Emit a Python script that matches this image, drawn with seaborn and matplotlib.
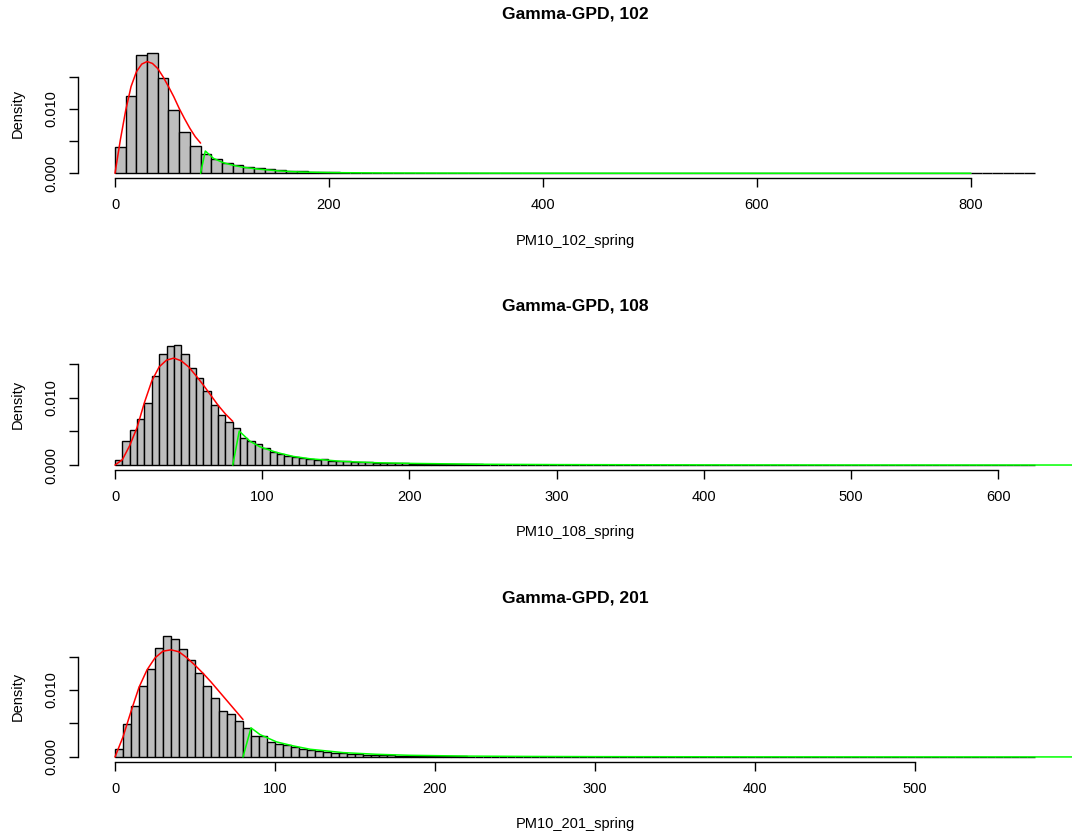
import numpy as np
import pandas as pd
import matplotlib
matplotlib.use("Agg")
import matplotlib.pyplot as plt
import matplotlib.transforms as mtransforms
import seaborn as sns

# ---------------- data ----------------
stations = ["102", "108", "201"]
bin_width = [10, 5, 5]
x_ticks_102 = [0, 200, 400, 600, 800]
x_ticks_108 = [0, 100, 200, 300, 400, 500, 600]
x_ticks_201 = [0, 100, 200, 300, 400, 500]
y_ticks = [0.0, 0.005, 0.010, 0.015]
y_tick_labels = ["0.000", "", "0.010", ""]

# histogram densities (bins start at 0)
dens_102 = [
    0.00415, 0.01203, 0.01835, 0.01877, 0.01488, 0.00980, 0.00638, 0.00425, 0.00300, 0.00220,
    0.00166, 0.00130, 0.00104, 0.00078, 0.00062, 0.00052, 0.00036, 0.00028, 0.00022, 0.00017,
    0.00013, 0.00010, 0.00008, 0.00007, 0.00005, 0.00004, 0.00003, 0.00003, 0.00002, 0.00002,
    0.00002, 0.00001, 0.00002, 0.00001, 0.00001, 0.00001, 0.00001, 0.00001, 0.0, 0.00001,
    0.00001, 0.0, 0.00001, 0.0, 0.00001, 0.0, 0.0, 0.00001, 0.0, 0.0,
    0.00001, 0.0, 0.0, 0.0, 0.00001, 0.0, 0.0, 0.0, 0.0, 0.00001,
    0.0, 0.0, 0.0, 0.0, 0.0, 0.00001, 0.0, 0.0, 0.0, 0.0,
    0.0, 0.0, 0.0, 0.0, 0.0, 0.0, 0.0, 0.0, 0.0, 0.0,
    0.0, 0.0, 0.0, 0.0, 0.0, 0.00001,
]
dens_108 = [
    0.00074, 0.00356, 0.00520, 0.00680, 0.00926, 0.01327, 0.01658, 0.01772, 0.01792, 0.01658,
    0.01436, 0.01297, 0.01100, 0.00891, 0.00743, 0.00634, 0.00545, 0.00396, 0.00356, 0.00307,
    0.00248, 0.00198, 0.00163, 0.00139, 0.00119, 0.00099, 0.00089, 0.00079, 0.00084, 0.00064,
    0.00059, 0.00054, 0.00049, 0.00045, 0.00040, 0.00037, 0.00035, 0.00030, 0.00028, 0.00025,
    0.00022, 0.00020, 0.00018, 0.00016, 0.00015, 0.00013, 0.00012, 0.00011, 0.00010, 0.00009,
    0.00008, 0.00008, 0.00007, 0.00006, 0.00006, 0.00005, 0.00005, 0.00004, 0.00004, 0.00003,
    0.00003, 0.00003, 0.00002, 0.00003, 0.00002, 0.00002, 0.00002, 0.00001, 0.00002, 0.00001,
    0.00001, 0.00001, 0.00002, 0.00001, 0.00001, 0.0, 0.00001, 0.00001, 0.0, 0.00001,
    0.0, 0.00001, 0.0, 0.0, 0.00001, 0.0, 0.0, 0.00001, 0.0, 0.0,
    0.00001, 0.0, 0.0, 0.0, 0.0, 0.00001, 0.0, 0.0, 0.0, 0.0,
    0.0, 0.0, 0.00001, 0.0, 0.0, 0.0, 0.0, 0.0, 0.0, 0.0,
    0.0, 0.0, 0.0, 0.0, 0.0, 0.0, 0.00001, 0.0, 0.0, 0.0,
    0.0, 0.0, 0.0, 0.0, 0.00001,
]
dens_201 = [
    0.00125, 0.00485, 0.00755, 0.01060, 0.01315, 0.01625, 0.01800, 0.01760, 0.01615, 0.01450,
    0.01250, 0.01065, 0.00875, 0.00690, 0.00635, 0.00535, 0.00440, 0.00310, 0.00310, 0.00225,
    0.00200, 0.00175, 0.00150, 0.00125, 0.00100, 0.00085, 0.00075, 0.00065, 0.00055, 0.00045,
    0.00040, 0.00036, 0.00032, 0.00028, 0.00025, 0.00022, 0.00020, 0.00017, 0.00015, 0.00013,
    0.00011, 0.00010, 0.00009, 0.00008, 0.00007, 0.00006, 0.00005, 0.00005, 0.00004, 0.00004,
    0.00003, 0.00003, 0.00003, 0.00002, 0.00002, 0.00002, 0.00002, 0.00001, 0.00002, 0.00001,
    0.00001, 0.00001, 0.00001, 0.00001, 0.0, 0.00001, 0.00001, 0.0, 0.00001, 0.0,
    0.00001, 0.0, 0.0, 0.00001, 0.0, 0.0, 0.0, 0.00001, 0.0, 0.0,
    0.0, 0.00001, 0.0, 0.0, 0.0, 0.0, 0.0, 0.0, 0.0, 0.0,
    0.0, 0.0, 0.0, 0.0, 0.00001, 0.0, 0.0, 0.0, 0.0, 0.0,
    0.0, 0.0, 0.0, 0.0, 0.0, 0.0, 0.0, 0.0, 0.0, 0.0,
    0.0, 0.0, 0.0, 0.0, 0.00001,
]

# fitted gamma bulk (red) and GPD tail (green) curves, read point by point
red_x_102 = [0, 5, 10, 15, 20, 25, 30, 35, 40, 45, 50, 55, 60, 65, 70, 75, 80]
red_y_102 = [0.0, 0.0052, 0.0098, 0.0135, 0.0158, 0.0170, 0.0174, 0.0171, 0.0163, 0.0150,
             0.0135, 0.0119, 0.0101, 0.0085, 0.0070, 0.0057, 0.0047]
green_x_102 = [80, 84.4, 92, 101, 110.6, 120, 135.5, 154, 173, 204, 250, 300, 400, 500, 600, 700, 800]
green_y_102 = [0.0, 0.00347, 0.00233, 0.00166, 0.00124, 0.00093, 0.00062, 0.00036, 0.00020,
               0.00010, 0.00005, 0.00003, 0.00001, 0.000005, 0.000003, 0.000002, 0.000001]

red_x_108 = [0, 5, 10, 15, 20, 25, 30, 35, 40, 45, 50, 55, 60, 65, 70, 75, 80]
red_y_108 = [0.0, 0.0008, 0.0029, 0.0056, 0.0093, 0.0125, 0.0146, 0.0156, 0.0159, 0.0155,
             0.0146, 0.0133, 0.0119, 0.0104, 0.0089, 0.0076, 0.0065]
green_x_108 = [80, 84.4, 91.6, 98.4, 109.7, 121, 132.4, 155, 177.6, 200, 250, 300, 400, 500, 660]
green_y_108 = [0.0, 0.00505, 0.00356, 0.00272, 0.00188, 0.00129, 0.00094, 0.00054, 0.00035,
               0.00025, 0.00012, 0.00007, 0.00003, 0.000015, 0.000007]

red_x_201 = [0, 5, 10, 15, 20, 25, 30, 35, 40, 45, 50, 55, 60, 65, 70, 75, 80]
red_y_201 = [0.0, 0.0030, 0.0068, 0.0104, 0.0130, 0.0148, 0.0158, 0.0160, 0.0157, 0.0148,
             0.0137, 0.0125, 0.0112, 0.0098, 0.0084, 0.0070, 0.0056]
green_x_201 = [80, 85, 90.6, 101, 111.5, 122, 142.7, 163.5, 184, 220, 260, 300, 400, 500, 620]
green_y_201 = [0.0, 0.00435, 0.00335, 0.00225, 0.00165, 0.00115, 0.00065, 0.00040, 0.00025,
               0.00013, 0.00008, 0.00005, 0.00002, 0.00001, 0.000005]

panels = [
    (stations[0], bin_width[0], dens_102, red_x_102, red_y_102, green_x_102, green_y_102, x_ticks_102),
    (stations[1], bin_width[1], dens_108, red_x_108, red_y_108, green_x_108, green_y_108, x_ticks_108),
    (stations[2], bin_width[2], dens_201, red_x_201, red_y_201, green_x_201, green_y_201, x_ticks_201),
]

# ---------------- style ----------------
sns.set_style("ticks")
plt.rcParams["font.family"] = ["Liberation Sans", "DejaVu Sans"]

W, H = 1074, 836
fig = plt.figure(figsize=(W / 100, H / 100), dpi=100)
fig.patch.set_facecolor("white")

ax_left = 78.2
ax_right = 1071.8
ax_tops = [47.9, 339.7, 631.6]
ax_h = 130.2

for (st, bw, dens, rx, ry, gx, gy, xt), top in zip(panels, ax_tops):
    ax = fig.add_axes([ax_left / W, 1 - (top + ax_h) / H, (ax_right - ax_left) / W, ax_h / H])
    ax.set_facecolor("white")
    n_bins = len(dens)
    xmax = n_bins * bw
    centers = [bw * (i + 0.5) for i in range(n_bins)]
    df = pd.DataFrame({"x": centers, "w": dens})
    sns.histplot(data=df, x="x", weights="w", binwidth=bw, binrange=(0, xmax), stat="count",
                 color="#BEBEBE", edgecolor="black", linewidth=1.0, alpha=1.0, ax=ax)
    sns.lineplot(x=rx, y=ry, color="#FF0000", linewidth=1.1, estimator=None, sort=False, ax=ax)
    sns.lineplot(x=gx, y=gy, color="#00FF00", linewidth=1.1, estimator=None, sort=False, ax=ax)

    ymax = max(dens)
    ax.set_xlim(-0.04 * xmax, 1.04 * xmax)
    ax.set_ylim(-0.04 * ymax, 1.04 * ymax)

    ax.set_xticks(xt)
    ax.set_xticklabels([str(v) for v in xt])
    ax.set_yticks(y_ticks)
    ax.set_yticklabels(y_tick_labels, rotation=90, va="center")

    for s in ["top", "right"]:
        ax.spines[s].set_visible(False)
    ax.spines["left"].set_bounds(y_ticks[0], y_ticks[-1])
    ax.spines["bottom"].set_bounds(xt[0], xt[-1])
    for s in ["left", "bottom"]:
        ax.spines[s].set_color("black")
        ax.spines[s].set_linewidth(1.0)

    ax.tick_params(direction="out", length=6.2, width=1.0, color="black",
                   labelsize=10.5, labelcolor="black", pad=8)
    ax.set_xlabel("")
    ax.set_ylabel("")

    t_title = mtransforms.offset_copy(ax.transAxes, fig=fig, x=0, y=34, units="dots")
    ax.text(0.5, 1.0, f"Gamma-GPD, {st}", transform=t_title, ha="center", va="center",
            fontsize=12.6, fontweight="bold", color="black")
    t_xl = mtransforms.offset_copy(ax.transAxes, fig=fig, x=0, y=-62.5, units="dots")
    ax.text(0.5, 0.0, f"PM10_{st}_spring", transform=t_xl, ha="center", va="center",
            fontsize=10.5, color="black")
    t_yl = mtransforms.offset_copy(ax.transAxes, fig=fig, x=-60, y=0, units="dots")
    ax.text(0.0, 0.5, "Density", transform=t_yl, ha="center", va="center",
            rotation=90, fontsize=10.5, color="black")

fig.savefig("out.png", dpi=100, facecolor="white")
